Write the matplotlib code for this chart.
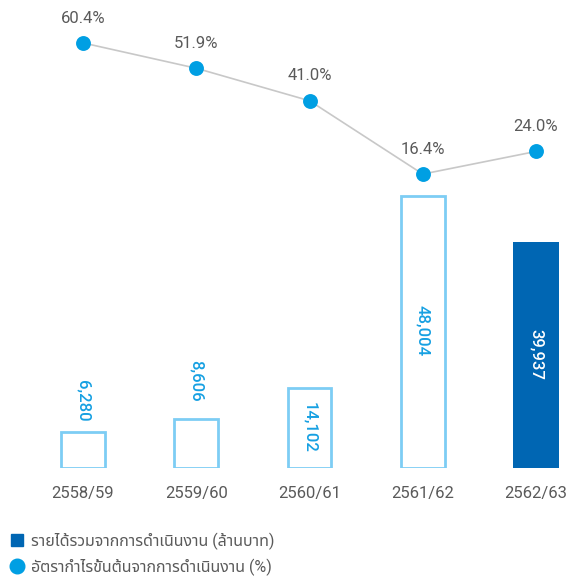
import matplotlib
matplotlib.use("Agg")
import matplotlib.pyplot as plt
from matplotlib.lines import Line2D

years = ["2558/59", "2559/60", "2560/61", "2561/62", "2562/63"]
revenue = [6280, 8606, 14102, 48004, 39937]
margin = [60.4, 51.9, 41.0, 16.4, 24.0]
legend_labels = ["รายได้รวมจากการดำเนินงาน (ล้านบาท)",
                 "อัตรากำไรขั้นต้นจากการดำเนินงาน (%)"]

plt.rcParams["font.family"] = ["Roboto", "Noto Sans Thai"]

outline = "#7dcdf4"
dark = "#0066b3"
label_blue = "#16a0e2"
dot = "#009fe3"
grey_text = "#5a5a5a"

fig = plt.figure(figsize=(5.68, 5.78), dpi=100)
ax = fig.add_axes([26.4 / 568, 1 - 468 / 578, 566.25 / 568, 468 / 578])

x = list(range(len(years)))
for i, v in enumerate(revenue):
    if i == len(revenue) - 1:
        ax.bar(i, v, width=0.41, color=dark, edgecolor=dark, linewidth=0)
    else:
        ax.bar(i, v, width=0.385, facecolor="white", edgecolor=outline, linewidth=2)

ax.set_xlim(-0.5, 4.5)
ax.set_ylim(0, 82600)

# value labels, rotated (reading downwards)
label_pos = [11800, 15350, 7240, 24200, 20100]
for i, v in enumerate(revenue):
    c = "white" if i == len(revenue) - 1 else label_blue
    ax.text(i, label_pos[i], f"{v:,}", rotation=-90, ha="center", va="center",
            color=c, fontsize=12, fontweight="medium")

ax.set_xticks(x)
ax.set_xticklabels(years, fontsize=12, color=grey_text)
ax.tick_params(axis="x", length=0, pad=13)
ax.set_yticks([])
for s in ax.spines.values():
    s.set_visible(False)

ax2 = ax.twinx()
ax2.set_ylim(-82.2, 74.8)
ax2.plot(x, margin, color="#c8c8c8", linewidth=1.2, zorder=1)
ax2.scatter(x, margin, s=115, color=dot, zorder=3, linewidths=0)
for i, v in enumerate(margin):
    ax2.text(i, v + 5.8, f"{v:.1f}%", ha="center", va="bottom",
             fontsize=12, color=grey_text)
ax2.set_yticks([])
for s in ax2.spines.values():
    s.set_visible(False)

# legend
handles = [
    Line2D([], [], marker="s", linestyle="none", markersize=9,
           markerfacecolor=dark, markeredgecolor=dark),
    Line2D([], [], marker="o", linestyle="none", markersize=10.5,
           markerfacecolor=dot, markeredgecolor=dot),
]
fig.legend(handles, legend_labels, loc="lower left", bbox_to_anchor=(0.0, -0.01),
           frameon=False, labelcolor=grey_text,
           handletextpad=0.35, handlelength=1.1, labelspacing=0.55,
           borderaxespad=0.1, prop={"size": 11.5})

fig.savefig("out.png")
